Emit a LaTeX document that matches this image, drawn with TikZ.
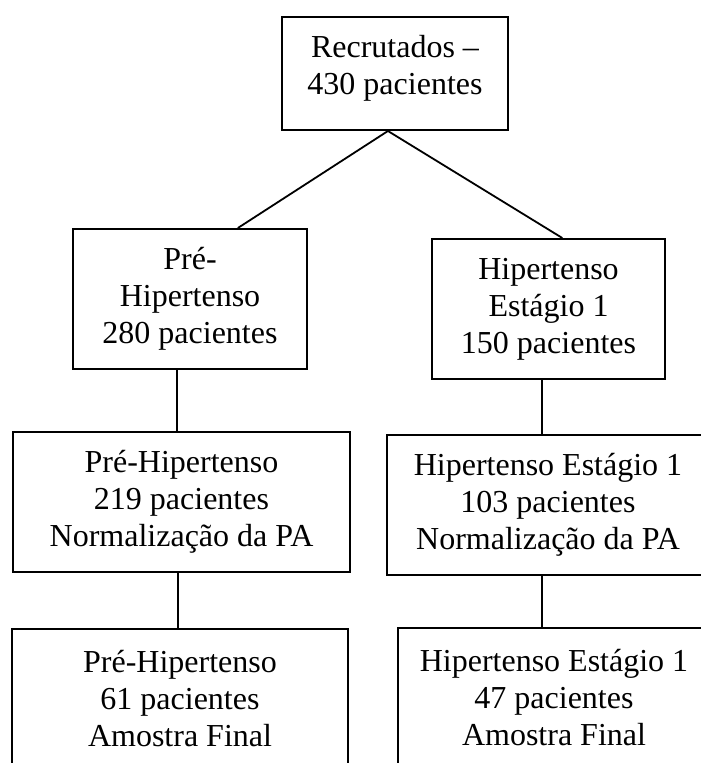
\documentclass[tikz,border=0pt]{standalone}
\usepackage{fontspec}
\setmainfont{Liberation Serif}
\usepackage{tikz}
\usetikzlibrary{positioning}

\begin{document}
\begin{tikzpicture}[x=1pt, y=-1pt,
    caixa/.style={draw, line width=2pt, align=center, inner sep=0pt,
                  font=\fontsize{32}{37}\selectfont},
    liga/.style={line width=1.8pt}]
  \useasboundingbox (0,0) rectangle (701,763);
  \clip (0,0) rectangle (701,763);

  % topo
  \node[caixa, minimum width=226, minimum height=113, text depth=18pt]
    (recrut) at (395,73.5) {Recrutados --\\430 pacientes};

  % classificacao inicial
  \node[caixa, minimum width=234, minimum height=140] (pre) at (190,299)
    {Pré-\\Hipertenso\\280 pacientes};
  \node[caixa, minimum width=233, minimum height=140] (est1) at (548.5,309)
    {Hipertenso\\Estágio 1\\150 pacientes};

  % normalizacao da PA
  \node[caixa, minimum width=337, minimum height=140] (prenorm) at (181.5,502)
    {Pré-Hipertenso\\219 pacientes\\Normalização da PA};
  \node[caixa, minimum width=322, minimum height=140] (est1norm) at (548,505)
    {Hipertenso Estágio 1\\103 pacientes\\Normalização da PA};

  % amostra final
  \node[caixa, minimum width=336, minimum height=140] (prefinal) at (180,699)
    {Pré-Hipertenso\\61 pacientes\\Amostra Final};
  \node[caixa, minimum width=312, minimum height=140] (est1final) at (554,698)
    {Hipertenso Estágio 1\\47 pacientes\\Amostra Final};

  \draw[liga] (pre.56) -- (recrut.263) -- (est1.79);
  \foreach \a/\b in {pre.260/prenorm, prenorm.267/prefinal,
                     est1.265/est1norm, est1norm.265/est1final}
    \draw[liga, line width=2pt] (\a) -- (\a |- \b.north);
\end{tikzpicture}
\end{document}
